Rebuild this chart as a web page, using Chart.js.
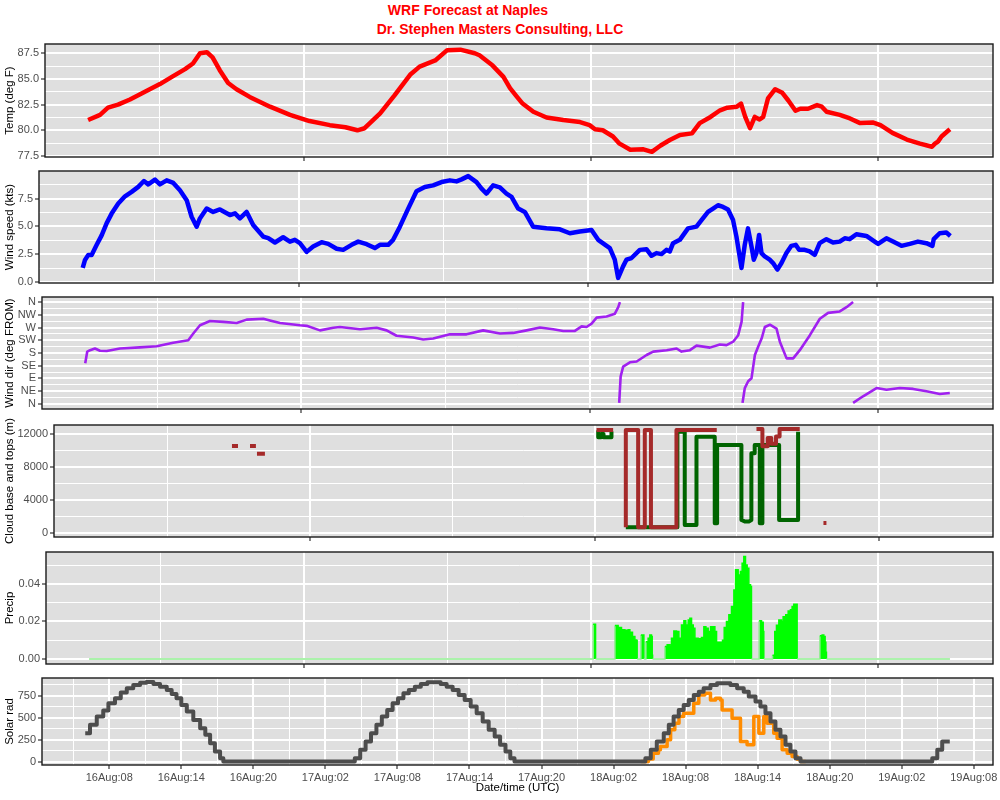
<!DOCTYPE html>
<html><head><meta charset="utf-8">
<script src="https://cdn.jsdelivr.net/npm/chart.js@4.4.1/dist/chart.umd.min.js"></script>
<style>
body{margin:0;background:#fff;width:1000px;height:800px;overflow:hidden;position:relative;font-family:"Liberation Sans",Arial,sans-serif}
canvas{position:absolute;left:0}
.t{position:absolute;color:#f00;font-weight:bold;font-size:14px;line-height:16px;white-space:nowrap;transform:translateX(-50%)}
</style></head><body>
<div class="t" style="left:468px;top:2px">WRF Forecast at Naples</div>
<div class="t" style="left:500px;top:21px">Dr. Stephen Masters Consulting, LLC</div>
<canvas id="c1"></canvas><canvas id="c2"></canvas><canvas id="c3"></canvas>
<canvas id="c4"></canvas><canvas id="c5"></canvas><canvas id="c6"></canvas>
<script>
// ---- time axis: hours since 16 Aug 00:00 UTC ----
const dayTicks = [12,24,36,48,60,72];
const dayMajor = [24,48,72];
const timeTicks = [5,8,11,14,17,20,23,26,29,32,35,38,41,44,47,50,53,56,59,62,65,68,71,74,77,80];
const timeMajor = [8,14,20,26,32,38,44,50,56,62,68,74,80];
const timeLabels = ['16Aug:08','16Aug:14','16Aug:20','17Aug:02','17Aug:08','17Aug:14','17Aug:20','18Aug:02','18Aug:08','18Aug:14','18Aug:20','19Aug:02','19Aug:08'];

// ---- temperature ----
const tempT = [6.0,7.0,7.66,8.5,9.5,10.75,12.0,13.0,14.1,14.76,15.35,15.93,16.4,17.0,17.7,18.4,19.5,21.2,22.87,24.5,26.2,27.5,28.5,29.1,30.4,31.6,32.9,33.7,35.0,36.0,37.1,38.3,38.7,39.8,40.7,41.25,41.8,42.3,43.2,44.3,45.7,47.1,47.9,48.35,49.0,49.85,50.4,51.3,52.4,53.1,53.8,54.6,55.45,56.45,57.1,58.0,58.8,59.4,60.2,60.55,60.9,61.3,61.7,62.1,62.4,62.8,63.4,64.0,64.5,65.1,65.5,66.15,66.9,67.3,67.7,68.8,69.65,70.5,71.6,72.2,73.2,74.4,75.5,76.5,76.75,77.0,77.3,77.75,78.0];
const tempV = [81.0,81.5,82.2,82.5,83.0,83.75,84.5,85.2,85.95,86.5,87.5,87.6,87.1,85.85,84.6,84.0,83.25,82.3,81.5,80.9,80.5,80.3,80.0,80.2,81.65,83.4,85.4,86.2,86.8,87.8,87.85,87.5,87.3,86.3,85.2,84.1,83.3,82.6,81.8,81.25,81.0,80.8,80.5,80.1,80.0,79.4,78.7,78.1,78.15,77.9,78.5,79.05,79.55,79.7,80.7,81.3,81.95,82.2,82.3,82.6,81.3,80.2,81.3,81.05,81.3,83.1,84.0,83.65,82.9,81.9,82.1,82.1,82.45,82.3,81.8,81.5,81.15,80.7,80.75,80.5,79.75,79.1,78.7,78.4,78.7,78.9,79.4,79.85,80.1];
const tempTicks = [77.5,78.75,80,81.25,82.5,83.75,85,86.25,87.5];
const tempMajor = [77.5,80,82.5,85,87.5];
const tempLabels = ['77.5','80.0','82.5','85.0','87.5'];

// ---- wind speed ----
const windT = [6.03,6.22,6.49,6.77,7.19,7.6,8.02,8.43,8.98,9.54,10.09,10.64,11.11,11.47,12.03,12.44,13.0,13.55,14.1,14.66,15.07,15.49,15.76,16.32,16.86,17.42,18.25,18.67,19.08,19.64,20.18,21.01,21.43,21.99,22.67,23.23,23.64,24.06,24.62,25.16,25.86,26.41,27.11,27.65,28.35,28.9,29.6,30.28,30.7,31.39,31.8,32.36,33.05,33.74,34.43,35.12,35.82,36.51,37.06,37.48,38.03,38.72,39.14,39.55,40.1,40.66,41.21,41.63,42.18,42.73,43.42,44.53,45.64,46.47,47.3,48.27,48.82,49.79,50.2,50.48,50.89,51.17,51.59,52.28,52.83,53.25,53.66,54.08,54.49,54.77,55.04,55.6,56.28,56.98,57.4,57.94,58.36,58.77,59.19,59.6,60.02,60.3,60.72,60.99,61.26,61.55,61.74,61.96,62.18,62.38,62.65,63.06,63.34,63.7,64.04,64.45,64.86,65.22,65.5,65.97,66.38,66.8,67.21,67.77,68.32,68.87,69.29,69.7,70.26,71.09,71.78,72.06,72.75,73.3,74.0,74.69,75.37,76.07,76.57,76.68,77.17,77.73,78.06];
const windV = [1.28,2.0,2.45,2.45,3.35,4.2,5.3,6.15,7.05,7.7,8.1,8.55,9.07,8.77,9.2,8.77,9.13,8.9,8.24,7.35,5.87,4.98,5.72,6.6,6.3,6.52,6.02,6.17,5.72,6.3,5.13,4.09,3.95,3.56,4.03,3.64,3.8,3.5,2.72,3.2,3.59,3.44,3.0,2.9,3.35,3.64,3.41,3.06,3.35,3.35,3.8,4.98,6.6,8.15,8.53,8.68,8.98,9.13,9.04,9.22,9.51,8.98,8.39,7.95,8.68,8.5,7.95,7.65,6.6,6.3,4.98,4.83,4.74,4.39,4.54,4.68,3.8,3.06,2.02,0.39,1.42,2.02,2.17,2.9,2.96,2.37,2.61,2.52,2.9,2.76,3.5,3.8,4.83,4.98,5.57,6.3,6.6,6.9,6.75,6.52,5.57,4.09,1.28,3.35,4.83,3.2,2.02,2.61,4.24,2.61,2.31,2.02,1.72,1.13,1.72,2.61,3.26,3.35,2.9,2.9,2.76,2.46,3.5,3.86,3.56,3.64,3.94,3.86,4.3,4.15,3.64,3.44,3.94,3.64,3.26,3.44,3.64,3.5,3.26,3.86,4.39,4.45,4.15];
const windTicks = [0,1.25,2.5,3.75,5,6.25,7.5,8.75];
const windMajor = [0,2.5,5,7.5];
const windLabels = ['0.0','2.5','5.0','7.5'];

// ---- wind direction (deg FROM), null = wrap-around break ----
const dirT = [6.0,6.17,6.4,6.81,7.23,7.79,8.89,10.56,11.95,13.33,14.58,15.0,15.56,16.39,17.5,18.61,19.44,20.83,21.38,22.22,23.88,24.44,25.55,26.66,27.21,28.88,30.27,31.1,31.93,33.32,34.15,34.98,36.37,37.76,39.14,40.54,41.64,42.76,43.87,44.97,45.81,46.78,47.34,47.75,48.17,48.59,49.42,50.11,50.39,50.53,
  50.5,
  50.47,50.59,50.8,51.36,51.92,52.75,53.3,54.42,55.25,55.66,56.36,56.91,58.02,58.85,59.41,59.96,60.38,60.66,60.79,
  60.77,
  60.74,60.93,61.21,61.49,61.77,62.04,62.33,62.6,63.02,63.57,63.85,64.41,64.96,65.51,66.35,67.18,67.87,68.84,69.4,69.95,
  69.95,
  69.95,70.78,71.9,72.73,73.84,74.95,76.06,77.17,78.0];
const dirV = [144,185,190,196,188,187,196,200,204,216,225,249,278,293,290,286,298,301,295,286,278,276,260,269,272,264,269,260,241,235,228,231,246,246,260,249,251,260,270,264,258,258,274,272,284,305,309,319,342,360,
  null,
  3.5,97,132,147,150,173,185,190,196,185,190,206,199,210,208,220,243,290,360,
  null,
  3.5,56,80,91,173,202,231,272,280,266,220,161,161,190,243,301,322,327,342,360,
  null,
  3.5,27,56,50,56,53,44.5,35,38.5];
const dirTicks = [0,22.5,45,67.5,90,112.5,135,157.5,180,202.5,225,247.5,270,292.5,315,337.5,360];
const dirMajor = [0,45,90,135,180,225,270,315,360];
const dirLabels = ['N','NE','E','SE','S','SW','W','NW','N'];

// ---- cloud tops (red) and bases (green), metres ----
const cloudTopT = [17.41,17.92,18.4,18.93,19.43,19.47,19.52,20.19,34,48.16,49.56,50.1,50.63,50.63,51.67,51.67,52.23,52.23,52.75,52.75,54.9,54.9,58.3,60,61.65,62.15,62.15,62.6,62.6,62.9,62.9,63.3,63.3,63.6,63.6,65.3,66.3,67.3,67.55];
const cloudTopV = [10540,10540,null,10540,10540,null,9600,9600,null,12490,12490,null,650,12490,12490,650,650,12490,12490,650,650,12490,12490,null,12600,12600,10500,10500,11500,11500,10800,10800,11700,11700,12600,12600,null,1180,1180];
const cloudBaseT = [48.3,48.3,48.55,48.55,48.75,48.75,49.42,49.42,50,50.63,54.98,54.98,55.18,55.6,55.6,56.59,56.59,58.13,58.13,58.33,58.33,60.38,60.38,60.7,61.0,61.22,61.22,61.5,61.5,61.93,61.93,62.15,62.15,63.56,63.56,65.16,65.16];
const cloudBaseV = [12300,11600,11600,12000,12000,11600,11600,12300,null,650,650,12490,12283,12283,940,940,11676,11676,1143,1143,10663,10663,1548,1350,1350,1548,9650,9650,10663,10663,1143,1143,10663,10663,1548,1548,12283];
const cloudTicks = [0,2000,4000,6000,8000,10000,12000];
const cloudMajor = [0,4000,8000,12000];
const cloudLabels = ['0','4000','8000','12000'];

// ---- precipitation ----
const precipT = [6.0,48.16,48.36,49.98,50.25,50.53,50.81,51.09,51.23,51.45,51.65,51.79,51.84,52.15,52.4,52.57,52.76,52.9,53.04,53.1,53.13,54.16,54.35,54.58,54.71,54.91,55.13,55.33,55.55,55.75,55.91,56.11,56.25,56.39,56.53,56.67,56.94,57.22,57.42,57.59,57.78,57.98,58.2,58.34,58.48,58.76,58.98,59.12,59.31,59.51,59.73,59.93,60.07,60.29,60.48,60.62,60.76,60.9,61.04,61.18,61.32,61.4,62.04,62.24,62.38,62.43,63.16,63.35,63.49,63.69,63.91,64.05,64.27,64.47,64.66,64.8,64.94,65.22,67.12,67.31,67.45,67.56,67.62,67.67,78.0];
const precipV = [0,0.0185,0,0.0178,0.0167,0.0155,0.0153,0.0155,0.0142,0.0119,0.0101,0.0098,0,0.0128,0,0.0092,0.011,0.0128,0.0119,0.002,0,0.0066,0.0075,0.0066,0.011,0.0149,0.0146,0.011,0.0181,0.0203,0.0181,0.0208,0.0217,0.0181,0.0164,0.011,0.0107,0.0114,0.0172,0.0164,0.0146,0.0172,0.0172,0.0146,0.0089,0.0089,0.01,0.0167,0.0199,0.0235,0.0279,0.0368,0.0475,0.0448,0.0466,0.051,0.0546,0.0501,0.0484,0.0395,0.0386,0,0.0203,0.0195,0.0146,0,0.002,0.0146,0.018,0.0208,0.0199,0.0225,0.0235,0.0255,0.0262,0.0279,0.0292,0,0.0124,0.0128,0.0119,0.0089,0.0036,0,0];
const precipTicks = [0,0.01,0.02,0.03,0.04,0.05];
const precipMajor = [0,0.02,0.04];
const precipLabels = ['0.00','0.02','0.04'];

// ---- solar radiation: clear-sky (grey) and modelled (orange) ----
const solarClearT = [6.0,6.4,6.96,7.5,7.93,8.48,8.96,9.46,10.0,10.57,11.1,11.68,12.23,12.79,13.2,13.6,14.0,14.46,15.0,15.57,16.0,16.4,16.8,17.23,17.5,
  28.45,28.9,29.35,29.8,30.25,30.7,31.15,31.6,32.05,32.5,32.95,33.45,33.95,34.5,35.6,36.1,36.6,37.1,37.6,38.1,38.6,39.1,39.6,40.1,40.55,41.0,41.4,41.75,
  52.65,53.1,53.6,54.18,54.6,55.0,55.43,55.84,56.26,56.68,57.1,57.5,58.07,58.62,59.73,60.29,60.84,61.26,61.82,62.23,62.65,63.07,63.48,63.9,64.32,64.73,65.15,65.57,
  76.54,76.96,77.37,78.0];
const solarClearV = [324,419,514,582,666,723,788,837,875,902,910,887,856,818,773,723,647,571,476,381,305,209,114,38,0,
  38,134,229,324,419,514,590,666,723,780,818,856,887,905,887,856,818,761,704,628,552,457,362,286,191,114,38,0,
  38,134,229,324,419,514,590,647,704,761,799,838,876,895,876,838,799,742,685,628,552,457,362,286,191,114,38,0,
  38,133,228,228];
const solarT = [52.3,52.9,53.3,53.74,53.9,54.46,54.75,55.1,55.45,55.84,56.68,57.1,57.6,58.07,58.5,58.9,59.04,59.87,60.57,61.12,61.68,62.1,62.51,62.79,63.34,63.62,64.04,64.46,64.87,65.29,65.57,66.0];
const solarV = [0,30,95,134,171,248,362,438,514,552,666,761,780,704,723,704,590,495,229,191,514,324,514,438,324,267,134,95,57,27,0,0];
const solarTicks = [0,125,250,375,500,625,750,875];
const solarMajor = [0,250,500,750];
const solarLabels = ['0','250','500','750'];

// ---------------------------------------------------------------
const FF = '"Liberation Sans", Arial, Helvetica, sans-serif';
Chart.defaults.font.family = FF;
const XMIN = 2.4, XMAX = 81.6;

function ds(T, V, color, w, extra) {
  return Object.assign({
    data: T.map((t, i) => ({x: t, y: V[i]})),
    borderColor: color, backgroundColor: color, borderWidth: w,
    pointRadius: 0, fill: false, tension: 0, spanGaps: false,
    borderJoinStyle: 'round'
  }, extra || {});
}
const near = (arr, v) => arr.findIndex(a => Math.abs(a - v) < 1e-6);

const panelPlugin = {
  id: 'panel',
  beforeDraw(ch) {
    const {ctx, chartArea: a} = ch;
    ctx.save(); ctx.fillStyle = '#DFDFDF';
    ctx.fillRect(a.left, a.top, a.right - a.left, a.bottom - a.top); ctx.restore();
  },
  afterDraw(ch) {
    const {ctx, chartArea: a} = ch;
    ctx.save(); ctx.strokeStyle = '#1A1A1A'; ctx.lineWidth = 1.4;
    ctx.strokeRect(a.left, a.top, a.right - a.left, a.bottom - a.top); ctx.restore();
  }
};

function mk(p, bottomAxis) {
  const PADT = 14, PADB = bottomAxis ? 0 : 12, xH = bottomAxis ? 35 : 7;
  const cv = document.getElementById(p.id);
  const H = p.bottom - p.top + PADT + xH + PADB;
  cv.width = 1000; cv.height = H;
  cv.style.width = '1000px'; cv.style.height = H + 'px';
  cv.style.top = (p.top - PADT) + 'px';
  const xt = bottomAxis ? timeTicks : dayTicks;
  const xm = bottomAxis ? timeMajor : dayMajor;
  const xl = bottomAxis ? timeLabels : null;
  new Chart(cv, {
    type: 'line',
    data: {datasets: p.ds},
    options: {
      responsive: false, animation: false, events: [],
      layout: {padding: {left: 0, right: 7, top: PADT, bottom: PADB}},
      plugins: {legend: {display: false}, tooltip: {enabled: false}},
      scales: {
        x: {
          type: 'linear', min: XMIN, max: XMAX,
          afterBuildTicks: s => { s.ticks = xt.map(v => ({value: v})); },
          afterFit: s => { s.height = xH; },
          border: {display: false},
          grid: {
            color: '#FFFFFF',
            lineWidth: c => (c.tick && near(xm, c.tick.value) >= 0) ? 2 : 1,
            tickLength: 4, tickWidth: 1.2,
            tickColor: c => (c.tick && near(xm, c.tick.value) >= 0) ? '#333333' : 'rgba(0,0,0,0)'
          },
          ticks: {
            autoSkip: false, maxRotation: 0, minRotation: 0, padding: 2,
            color: '#4D4D4D', font: {size: 11},
            callback: v => { if (!xl) return ''; const i = near(xm, v); return i >= 0 ? xl[i] : ''; }
          },
          title: bottomAxis ? {display: true, text: 'Date/time (UTC)', color: '#000', font: {size: 11.5}, padding: {top: 0, bottom: 5}} : {display: false}
        },
        y: {
          type: 'linear', min: p.ymin, max: p.ymax,
          afterBuildTicks: s => { s.ticks = p.yt.map(v => ({value: v})); },
          afterFit: s => { s.width = p.left; },
          border: {display: false},
          grid: {
            color: '#FFFFFF',
            lineWidth: c => (c.tick && near(p.ym, c.tick.value) >= 0) ? 2 : 1,
            tickLength: 4, tickWidth: 1.2,
            tickColor: c => (c.tick && near(p.ym, c.tick.value) >= 0) ? '#333333' : 'rgba(0,0,0,0)'
          },
          ticks: {
            autoSkip: false, padding: 2, color: '#4D4D4D', font: {size: 11},
            callback: v => { const i = near(p.ym, v); return i >= 0 ? p.yl[i] : ''; }
          },
          title: {display: true, text: p.title, color: '#000', font: {size: 11.5}, padding: {top: 3, bottom: 0}}
        }
      }
    },
    plugins: [panelPlugin]
  });
}

mk({id: 'c1', top: 44, bottom: 157, left: 45, ymin: 77.4, ymax: 88.4,
    yt: tempTicks, ym: tempMajor, yl: tempLabels, title: 'Temp (deg F)',
    ds: [ds(tempT, tempV, '#FF0000', 4.5)]}, false);
mk({id: 'c2', top: 171, bottom: 283, left: 39, ymin: -0.07, ymax: 9.97,
    yt: windTicks, ym: windMajor, yl: windLabels, title: 'Wind speed (kts)',
    ds: [ds(windT, windV, '#0000FF', 4.5)]}, false);
mk({id: 'c3', top: 297, bottom: 409, left: 42, ymin: -18, ymax: 378,
    yt: dirTicks, ym: dirMajor, yl: dirLabels, title: 'Wind dir (deg FROM)',
    ds: [ds(dirT, dirV, '#A020F0', 2.6)]}, false);
mk({id: 'c4', top: 425, bottom: 537, left: 54, ymin: -520, ymax: 13090,
    yt: cloudTicks, ym: cloudMajor, yl: cloudLabels, title: 'Cloud base and tops (m)',
    ds: [ds(cloudTopT, cloudTopV, '#A52A2A', 4), ds(cloudBaseT, cloudBaseV, '#006400', 4)]}, false);
mk({id: 'c5', top: 552, bottom: 664, left: 46, ymin: -0.0027, ymax: 0.057,
    yt: precipTicks, ym: precipMajor, yl: precipLabels, title: 'Precip',
    ds: [ds(precipT, precipV, '#00FF00', 1.5, {
      stepped: true, fill: 'origin', backgroundColor: '#00FF00', borderJoinStyle: 'miter',
      segment: {borderColor: c => c.p0.parsed.y === 0 ? '#90EE90' : '#00FF00'}
    })]}, false);
mk({id: 'c6', top: 678, bottom: 765, left: 42, ymin: -40, ymax: 955,
    yt: solarTicks, ym: solarMajor, yl: solarLabels, title: 'Solar rad',
    ds: [ds(solarClearT, solarClearV, '#4D4D4D', 4, {stepped: true}),
         ds(solarT, solarV, '#FF8C00', 3.5, {stepped: true})]}, true);
</script>
</body></html>
